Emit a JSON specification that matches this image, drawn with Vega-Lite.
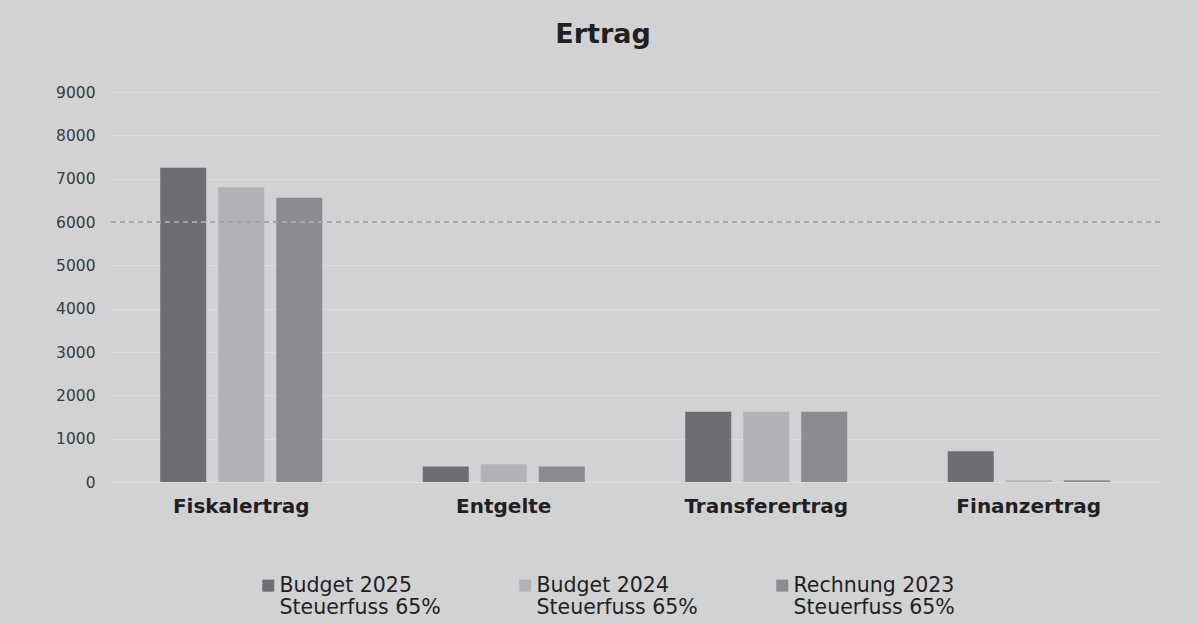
{
  "$schema": "https://vega.github.io/schema/vega-lite/v6.json",
  "width": 1050,
  "height": 390,
  "autosize": {"type": "none"},
  "padding": {"left": 110, "top": 92, "right": 38, "bottom": 142},
  "background": "#d1d2d4",
  "title": {
    "text": "Ertrag",
    "font": "DejaVu Sans",
    "fontSize": 27,
    "fontWeight": "bold",
    "color": "#231f20",
    "anchor": "middle",
    "baseline": "alphabetic",
    "dx": -32,
    "offset": 15
  },
  "config": {
    "view": {"stroke": null},
    "font": "DejaVu Sans"
  },
  "data": {
    "values": [
      {"kategorie": "Fiskalertrag", "serie": "Budget 2025", "wert": 7250},
      {"kategorie": "Fiskalertrag", "serie": "Budget 2024", "wert": 6800},
      {"kategorie": "Fiskalertrag", "serie": "Rechnung 2023", "wert": 6560},
      {"kategorie": "Entgelte", "serie": "Budget 2025", "wert": 360},
      {"kategorie": "Entgelte", "serie": "Budget 2024", "wert": 410},
      {"kategorie": "Entgelte", "serie": "Rechnung 2023", "wert": 360},
      {"kategorie": "Transferertrag", "serie": "Budget 2025", "wert": 1620},
      {"kategorie": "Transferertrag", "serie": "Budget 2024", "wert": 1620},
      {"kategorie": "Transferertrag", "serie": "Rechnung 2023", "wert": 1620},
      {"kategorie": "Finanzertrag", "serie": "Budget 2025", "wert": 710},
      {"kategorie": "Finanzertrag", "serie": "Budget 2024", "wert": 40},
      {"kategorie": "Finanzertrag", "serie": "Rechnung 2023", "wert": 40}
    ]
  },
  "layer": [
    {
      "mark": {"type": "bar"},
      "encoding": {
        "x": {
          "field": "kategorie",
          "type": "nominal",
          "sort": ["Fiskalertrag", "Entgelte", "Transferertrag", "Finanzertrag"],
          "scale": {"paddingInner": 0, "paddingOuter": 0},
          "axis": {
            "title": null,
            "labelAngle": 0,
            "labelFont": "DejaVu Sans",
            "labelFontSize": 20,
            "labelFontWeight": "bold",
            "labelColor": "#231f20",
            "labelPadding": 14,
            "ticks": false,
            "domain": false,
            "grid": false
          }
        },
        "xOffset": {
          "field": "serie",
          "type": "nominal",
          "sort": ["Budget 2025", "Budget 2024", "Rechnung 2023"],
          "scale": {"paddingInner": 0.207, "paddingOuter": 0.866}
        },
        "y": {
          "field": "wert",
          "type": "quantitative",
          "scale": {"domain": [0, 9000], "nice": false},
          "axis": {
            "title": null,
            "values": [0, 1000, 2000, 3000, 4000, 5000, 6000, 7000, 8000, 9000],
            "format": "d",
            "labelFont": "DejaVu Sans",
            "labelFontSize": 15.5,
            "labelColor": "#3a3a3a",
            "labelPadding": 15,
            "ticks": false,
            "domain": false,
            "grid": true,
            "gridColor": "#dbdcde",
            "gridWidth": 1
          }
        },
        "color": {
          "field": "serie",
          "type": "nominal",
          "sort": ["Budget 2025", "Budget 2024", "Rechnung 2023"],
          "scale": {
            "domain": ["Budget 2025", "Budget 2024", "Rechnung 2023"],
            "range": ["#6d6e71", "#b1b2b5", "#8b8c8f"]
          },
          "legend": {
            "orient": "none",
            "legendX": 148,
            "legendY": 483,
            "direction": "horizontal",
            "title": null,
            "symbolType": "square",
            "symbolSize": 144,
            "symbolStrokeWidth": 0,
            "labelFont": "DejaVu Sans",
            "labelFontSize": 20.5,
            "labelColor": "#231f20",
            "labelLimit": 400,
            "labelOffset": 1,
            "columnPadding": 74,
            "labelExpr": "[datum.label, 'Steuerfuss 65%']",
            "labelLineHeight": 24.5
          }
        }
      }
    },
    {
      "mark": {"type": "rule", "strokeDash": [5, 4], "color": "#a4a5a7", "strokeWidth": 1},
      "encoding": {"y": {"datum": 6000}}
    }
  ]
}
